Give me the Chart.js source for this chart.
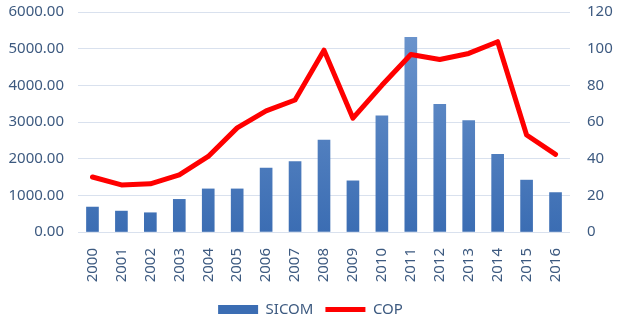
<!DOCTYPE html>
<html>
<head>
<meta charset="utf-8">
<script src="https://cdn.jsdelivr.net/npm/chart.js@4"></script>
<style>
  html, body { margin: 0; padding: 0; background: #fff; }
  #wrap { width: 621px; height: 321px; }
</style>
</head>
<body>
<div id="wrap"><canvas id="chart"></canvas></div>
<script>
const years = ['2000', '2001', '2002', '2003', '2004', '2005', '2006', '2007', '2008',
  '2009', '2010', '2011', '2012', '2013', '2014', '2015', '2016']
const sicom = [680, 570, 525, 890, 1175, 1175, 1745, 1920, 2510,
  1395, 3170, 5310, 3480, 3040, 2115, 1415, 1075]
const cop = [30, 25.7, 26.3, 31.2, 41.2, 56.8, 66.1, 72, 99.2,
  62.1, 80, 96.8, 94.1, 97.4, 103.8, 52.9, 42.3]

const textColor = '#3D5A80'
const gridColor = '#D9E1EE'
const font = { family: 'Noto Sans', size: 15 }

// vertical shading on the columns, lighter at the top
function barFill (context) {
  const area = context.chart.chartArea
  if (!area || context.type !== 'data') return '#4A7BBE'
  const g = context.chart.ctx.createLinearGradient(0, area.top, 0, area.bottom)
  g.addColorStop(0, '#7098CF')
  g.addColorStop(1, '#3B6DB3')
  return g
}

// fixed side widths, and keep the tick padding from pushing the plot down
function sideAxis (width) {
  return (scale) => {
    scale.width = width
    scale.paddingTop = 12
    scale.paddingBottom = 0
  }
}

const ctx = document.getElementById('chart')
const myChart = new Chart(ctx, {
  data: {
    labels: years,
    datasets: [
      {
        type: 'line',
        label: 'COP',
        data: cop,
        yAxisID: 'y1',
        borderColor: '#FF0000',
        backgroundColor: '#FF0000',
        borderWidth: 5,
        borderCapStyle: 'round',
        borderJoinStyle: 'round',
        pointRadius: 0,
        tension: 0,
        pointStyle: 'line',
        order: 1
      },
      {
        type: 'bar',
        label: 'SICOM',
        data: sicom,
        yAxisID: 'y',
        backgroundColor: barFill,
        borderWidth: 0,
        barThickness: 12,
        pointStyle: 'rect',
        order: 2
      }
    ]
  },
  options: {
    responsive: true,
    maintainAspectRatio: false,
    animation: false,
    layout: { padding: { top: 0, bottom: -6 } },
    plugins: {
      tooltip: { enabled: false },
      legend: {
        position: 'bottom',
        reverse: true,
        labels: {
          usePointStyle: true,
          pointStyleWidth: 40,
          boxHeight: 9,
          padding: 12,
          color: textColor,
          font: font
        }
      }
    },
    scales: {
      x: {
        grid: { display: false },
        border: { display: false },
        ticks: {
          color: textColor,
          font: font,
          minRotation: 90,
          maxRotation: 90,
          padding: 8,
          autoSkip: false
        },
        afterFit: (scale) => { scale.height = 58 }
      },
      y: {
        position: 'left',
        min: 0,
        max: 6000,
        grid: { color: gridColor, drawTicks: false },
        border: { display: false },
        ticks: {
          stepSize: 1000,
          color: textColor,
          font: font,
          padding: 14,
          callback: (v) => v.toFixed(2)
        },
        afterFit: sideAxis(78)
      },
      y1: {
        position: 'right',
        min: 0,
        max: 120,
        grid: { drawOnChartArea: false, drawTicks: false },
        border: { display: false },
        ticks: {
          stepSize: 20,
          color: textColor,
          font: font,
          padding: 17
        },
        afterFit: sideAxis(51)
      }
    }
  }
})
</script>
</body>
</html>
